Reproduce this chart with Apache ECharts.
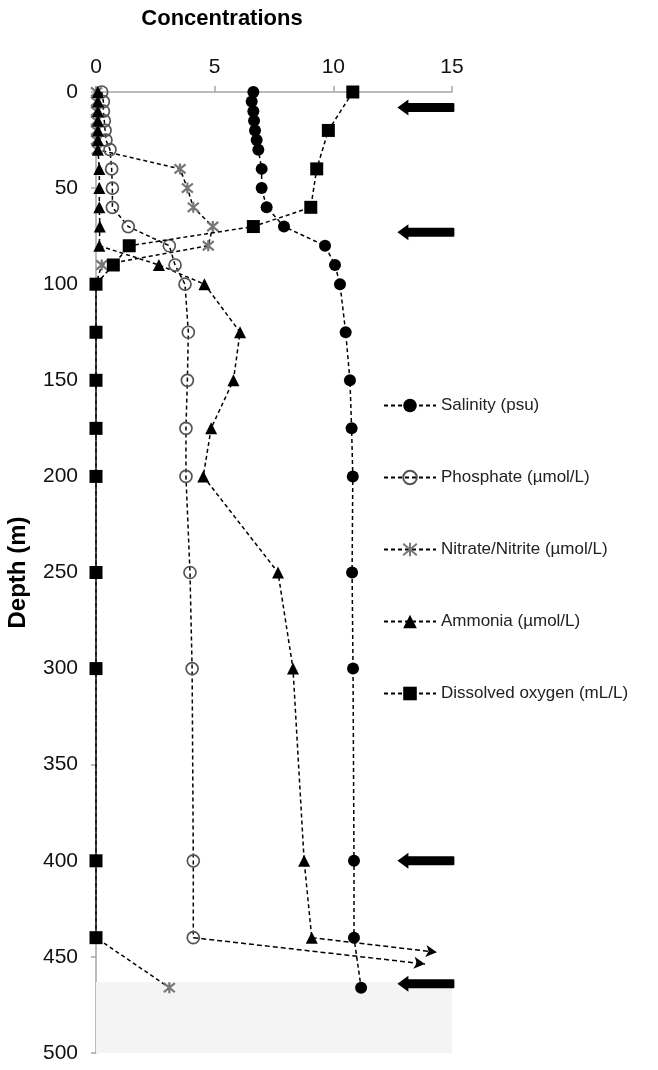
<!DOCTYPE html>
<html>
<head>
<meta charset="utf-8">
<script src="https://cdn.jsdelivr.net/npm/echarts@6/dist/echarts.min.js"></script>
<style>
html,body{margin:0;padding:0;background:#fff;}
#chart{width:658px;height:1070px;}
</style>
</head>
<body>
<div id="chart"></div>
<script>
// ---- Data (value, depth in m) ----
const salinityDepth = [0,5,10,15,20,25,30,40,50,60,70,80,90,100,125,150,175,200,250,300,400,440,466];
const salinity      = [6.63,6.56,6.63,6.66,6.70,6.77,6.84,6.98,6.98,7.19,7.92,9.65,10.07,10.28,10.52,10.70,10.77,10.82,10.79,10.83,10.87,10.87,11.17];

const phosphateDepth = [0,5,10,15,20,25,30,40,50,60,70,80,90,100,125,150,175,200,250,300,400,440];
const phosphate      = [0.24,0.31,0.31,0.35,0.38,0.42,0.59,0.66,0.69,0.69,1.36,3.09,3.33,3.75,3.89,3.85,3.79,3.79,3.96,4.05,4.10,4.10];

const nitrateDepth = [0,5,10,15,20,25,30,40,50,60,70,80,90,100,125,150,175,200,250,300,400,440,466];
const nitrate      = [0.02,0.02,0.02,0.02,0.02,0.02,0.05,3.54,3.85,4.10,4.92,4.73,0.24,0,0,0,0,0,0,0,0,0,3.09];

const ammoniaDepth = [0,5,10,15,20,25,30,40,50,60,70,80,90,100,125,150,175,200,250,300,400,440];
const ammonia      = [0.08,0.08,0.08,0.08,0.08,0.08,0.08,0.14,0.14,0.14,0.16,0.14,2.65,4.57,6.07,5.79,4.85,4.52,7.67,8.30,8.77,9.09];

const oxygenDepth = [0,20,40,60,70,80,90,100,125,150,175,200,250,300,400,440];
const oxygen      = [10.82,9.79,9.30,9.05,6.63,1.40,0.73,0,0,0,0,0,0,0,0,0];

// off-scale values at the bottom: start point -> arrow tip [value, depth]
const phosphateOffscale = [[4.10,440],[13.86,453.7]];
const ammoniaOffscale   = [[9.09,440],[14.36,447.6]];

// block arrows on the right (depths) and seafloor band
const markerArrowDepths = [8, 73, 400, 464];
const markerArrowX = 13.9;
const seafloorDepth = 463;

const xTicks = {min:0, max:15, interval:5};
const yTicks = {min:0, max:500, interval:50};

const seriesNames = ['Salinity (psu)','Phosphate (µmol/L)','Nitrate/Nitrite (µmol/L)','Ammonia (µmol/L)','Dissolved oxygen (mL/L)'];

function pairs(vals, depths){ return vals.map((v,i)=>[v, depths[i]]); }

const FONT = '"Liberation Sans", Arial, Helvetica, sans-serif';
const dash = {color:'#000', width:1.5, type:[4,3]};
const asterisk = 'path://M0,0 L10,10 M10,0 L0,10 M5,-1 L5,11';
const blockArrow = 'path://M0,8 L11,0 L11,3.5 L56,3.5 Q57,3.5 57,4.5 L57,11.5 Q57,12.5 56,12.5 L11,12.5 L11,16 Z';

const chart = echarts.init(document.getElementById('chart'), null, {renderer:'canvas'});
chart.setOption({
  animation:false,
  backgroundColor:'#fff',
  textStyle:{fontFamily:FONT},
  grid:{left:96, top:92, width:356, height:961, containLabel:false, outerBoundsMode:'none'},
  xAxis:{
    type:'value', position:'top', min:xTicks.min, max:xTicks.max, interval:xTicks.interval,
    name:'Concentrations', nameLocation:'middle', nameGap:62,
    nameTextStyle:{fontFamily:FONT, fontSize:22, fontWeight:'bold', color:'#000', padding:[0,104,0,0]},
    axisLine:{show:true, lineStyle:{color:'#a6a6a6', width:1.5}},
    axisTick:{show:true, length:6, lineStyle:{color:'#a6a6a6', width:1.5}},
    axisLabel:{fontFamily:FONT, fontSize:21, color:'#111', margin:14},
    splitLine:{show:false}
  },
  yAxis:{
    type:'value', inverse:true, min:yTicks.min, max:yTicks.max, interval:yTicks.interval,
    name:'Depth (m)', nameLocation:'middle', nameGap:66, nameRotate:90,
    nameTextStyle:{fontFamily:FONT, fontSize:24, fontWeight:'bold', color:'#000'},
    axisLine:{show:true, lineStyle:{color:'#a6a6a6', width:1.5}},
    axisTick:{show:true, length:5, lineStyle:{color:'#a6a6a6', width:1.5}},
    axisLabel:{fontFamily:FONT, fontSize:21, color:'#111', margin:18},
    splitLine:{show:false}
  },
  legend:{
    orient:'vertical', left:378, top:392, itemGap:55, itemWidth:52, itemHeight:17,
    data:seriesNames,
    textStyle:{fontFamily:FONT, fontSize:17, color:'#222'},
    selectedMode:false
  },
  series:[
    {
      name:seriesNames[0], type:'line', data:pairs(salinity, salinityDepth),
      symbol:'circle', symbolSize:12, lineStyle:dash,
      itemStyle:{color:'#000'},
      markArea:{silent:true, itemStyle:{color:'#f4f4f4'},
        data:[[{coord:[xTicks.min, seafloorDepth]},{coord:[xTicks.max, yTicks.max]}]]},
      z:3
    },
    {
      name:seriesNames[1], type:'line', data:pairs(phosphate, phosphateDepth),
      symbol:'circle', symbolSize:12, lineStyle:dash,
      itemStyle:{color:'rgba(255,255,255,0)', borderColor:'#555', borderWidth:1.7},
      markLine:{silent:true, symbol:['none','arrow'], symbolSize:[9,11], label:{show:false},
        lineStyle:{color:'#000', width:1.5, type:[5,3]},
        data:[[{coord:phosphateOffscale[0]},{coord:phosphateOffscale[1]}]]},
      z:3
    },
    {
      name:seriesNames[2], type:'line', data:pairs(nitrate, nitrateDepth),
      symbol:asterisk, symbolSize:11, lineStyle:dash,
      itemStyle:{color:'rgba(0,0,0,0)', borderColor:'#777', borderWidth:2.2},
      z:3
    },
    {
      name:seriesNames[3], type:'line', data:pairs(ammonia, ammoniaDepth),
      symbol:'triangle', symbolSize:12, lineStyle:dash,
      itemStyle:{color:'#000'},
      markLine:{silent:true, symbol:['none','arrow'], symbolSize:[9,11], label:{show:false},
        lineStyle:{color:'#000', width:1.5, type:[5,3]},
        data:[[{coord:ammoniaOffscale[0]},{coord:ammoniaOffscale[1]}]]},
      z:3
    },
    {
      name:seriesNames[4], type:'line', data:pairs(oxygen, oxygenDepth),
      symbol:'rect', symbolSize:13, lineStyle:dash,
      itemStyle:{color:'#000'},
      z:4
    },
    {
      name:'markers', type:'scatter', silent:true,
      data:markerArrowDepths.map(d=>[markerArrowX, d]),
      symbol:blockArrow, symbolSize:[57,16], symbolKeepAspect:false,
      itemStyle:{color:'#000', opacity:1}, z:5
    }
  ]
});
</script>
</body>
</html>
